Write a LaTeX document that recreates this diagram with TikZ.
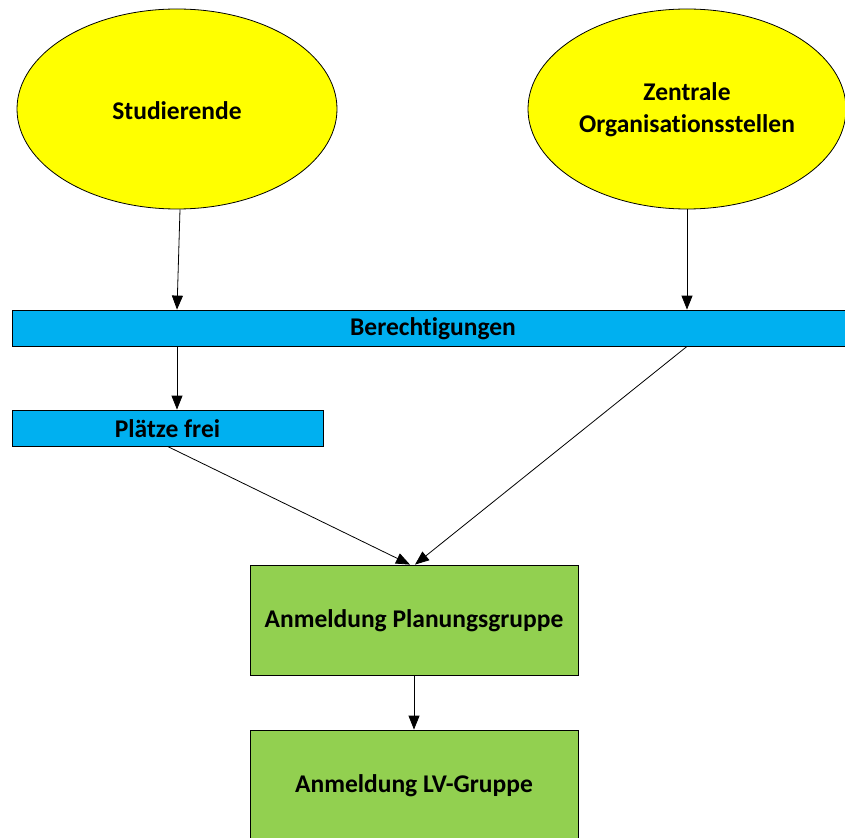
\documentclass[tikz,border=0pt]{standalone}
\usepackage{fontspec}
\setmainfont{Carlito}[Ligatures=NoCommon]
\usetikzlibrary{shapes.geometric,calc,arrows.meta}
\definecolor{ellyellow}{HTML}{FFFF00}
\definecolor{barblue}{HTML}{00B0F0}
\definecolor{boxgreen}{HTML}{92D050}
\tikzset{
  base/.style={draw=black, line width=0.8pt, inner sep=0pt, align=center,
    font=\fontsize{25.5}{32}\selectfont\bfseries, text=black},
  ell/.style={base, ellipse, fill=ellyellow},
  bluebar/.style={base, rectangle, fill=barblue},
  greenbox/.style={base, rectangle, fill=boxgreen},
  lbl/.style={base, draw=none},
  conn/.style={draw=black, line width=0.8pt, -{Triangle[length=14pt,width=11pt]}}
}
\begin{document}
\begin{tikzpicture}[x=1pt,y=-1pt]
\useasboundingbox (0,0) rectangle (845,837);
\fill[white] (0,0) rectangle (845,837);
\clip (0,0) rectangle (845,837);

\node[ell, minimum width=320pt, minimum height=200pt] (stud) at (177,109) {};
\node[lbl] (studt) at (177,110.5) {Studierende};
\node[ell, minimum width=318pt, minimum height=200pt] (zos) at (687,109) {};
\node[lbl] (zost) at (687,110) {Zentrale\\Organisationsstellen};
\node[bluebar, minimum width=842pt, minimum height=36pt] (ber) at (433,328) {};
\node[lbl] (bert) at (433,329) {Berechtigungen};
\node[bluebar, minimum width=311pt, minimum height=36pt] (frei) at (167.5,428) {};
\node[lbl] (freit) at (167.5,429) {Plätze frei};
\node[greenbox, minimum width=328pt, minimum height=110pt] (plan) at (414,620) {};
\node[lbl] (plant) at (414,621) {Anmeldung Planungsgruppe};
\node[greenbox, minimum width=328pt, minimum height=120pt] (lv) at (414,790) {};
\node[lbl] (lvt) at (414,786) {Anmeldung LV-Gruppe};

\draw[conn] ($(stud.south)+(3,0)$) -- (ber.north -| stud.south);
\draw[conn] (zos.south) -- (ber.north -| zos.south);
\draw[conn] (ber.south -| stud.south) -- (frei.north -| stud.south);
\draw[conn] (ber.south -| zos.south) -- ($(plan.north)+(1,0)$);
\draw[conn] (frei.south) -- ($(plan.north)+(-4,0)$);
\draw[conn] (plan.south) -- (lv.north);
\end{tikzpicture}
\end{document}
